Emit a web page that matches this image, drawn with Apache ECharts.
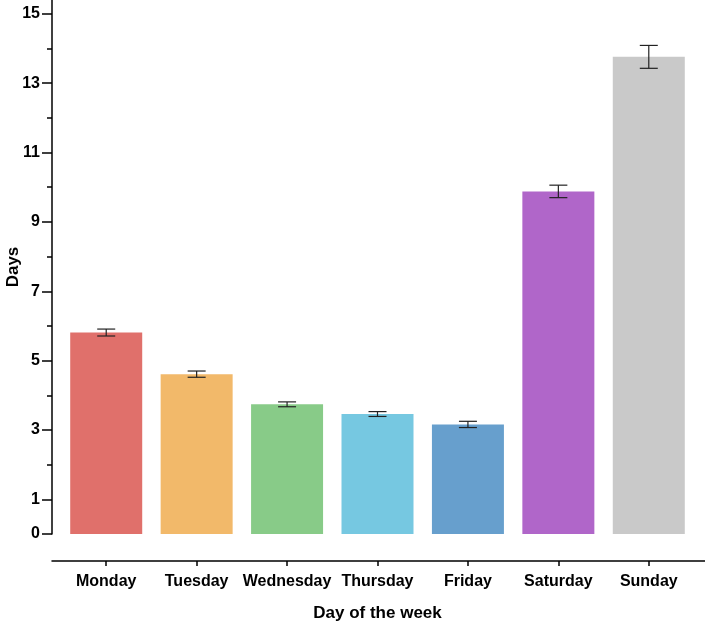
<!DOCTYPE html>
<html>
<head>
<meta charset="utf-8">
<script src="https://cdn.jsdelivr.net/npm/echarts@6/dist/echarts.min.js"></script>
<style>
  html, body { margin: 0; padding: 0; background: #fff; }
  #chart { width: 705px; height: 623px; }
</style>
</head>
<body>
<div id="chart"></div>
<script>
// 数据
const days = ['Monday', 'Tuesday', 'Wednesday', 'Thursday', 'Friday', 'Saturday', 'Sunday']
const means = [5.81, 4.61, 3.74, 3.46, 3.16, 9.88, 13.76]
const errors = [0.1, 0.09, 0.07, 0.07, 0.09, 0.18, 0.33]
const barColors = ['#E0706B', '#F2B96A', '#88CB88', '#76C8E1', '#679FCD', '#B066C9', '#C9C9C9']
const majorTicks = [0, 1, 3, 5, 7, 9, 11, 13, 15]
const minorTicks = [2, 4, 6, 8, 10, 12, 14]

const font = 'Liberation Sans, Arial, sans-serif'
const myChart = echarts.init(document.getElementById('chart'))

const option = {
  animation: false,
  grid: [
    { left: 61, right: 11, top: 0, bottom: 89, containLabel: false, outerBoundsMode: 'none' },
    // 只画 x 轴线
    { left: 52, right: 0, top: 0, bottom: 89, containLabel: false, outerBoundsMode: 'none' }
  ],
  xAxis: [
    {
      type: 'category',
      gridIndex: 0,
      data: days,
      offset: 27,
      axisLine: { show: false, onZero: false },
      axisTick: { show: true, alignWithLabel: true, length: 5, lineStyle: { color: '#000', width: 1.5 } },
      axisLabel: { interval: 0, margin: 13, color: '#000', fontSize: 16, fontWeight: 'bold', fontFamily: font },
      name: 'Day of the week',
      nameLocation: 'middle',
      nameGap: 44,
      nameMoveOverlap: false,
      nameTextStyle: { color: '#000', fontSize: 17, fontWeight: 'bold', fontFamily: font }
    },
    {
      type: 'value',
      gridIndex: 1,
      min: 0,
      max: 1,
      offset: 27,
      axisLine: { show: true, onZero: false, lineStyle: { color: '#000', width: 1.5 } },
      axisTick: { show: false },
      axisLabel: { show: false },
      splitLine: { show: false }
    }
  ],
  yAxis: [
    {
      type: 'value',
      gridIndex: 0,
      position: 'left',
      min: 0,
      max: 15.4,
      offset: 9,
      axisLine: { show: true, onZero: false, lineStyle: { color: '#000', width: 1.5 } },
      axisTick: { show: true, length: 10, customValues: majorTicks, lineStyle: { color: '#000', width: 1.5 } },
      axisLabel: {
        margin: 12,
        customValues: majorTicks,
        color: '#000',
        fontSize: 16,
        fontWeight: 'bold',
        fontFamily: font
      },
      splitLine: { show: false },
      name: 'Days',
      nameLocation: 'middle',
      nameGap: 30,
      nameMoveOverlap: false,
      nameTextStyle: { color: '#000', fontSize: 17, fontWeight: 'bold', fontFamily: font }
    },
    {
      // 次刻度
      type: 'value',
      gridIndex: 0,
      position: 'left',
      min: 0,
      max: 15.4,
      offset: 9,
      axisLine: { show: false, onZero: false },
      axisTick: { show: true, length: 5, customValues: minorTicks, lineStyle: { color: '#000', width: 1.5 } },
      axisLabel: { show: false },
      splitLine: { show: false }
    },
    {
      type: 'value',
      gridIndex: 1,
      show: false
    }
  ],
  series: [
    {
      type: 'bar',
      xAxisIndex: 0,
      yAxisIndex: 0,
      barWidth: 72,
      data: means.map((v, i) => ({ value: v, itemStyle: { color: barColors[i] } }))
    },
    {
      // 误差线
      type: 'custom',
      xAxisIndex: 0,
      yAxisIndex: 0,
      z: 5,
      data: means.map((v, i) => [i, v - errors[i], v + errors[i]]),
      renderItem: (params, api) => {
        const lo = api.coord([api.value(0), api.value(1)])
        const hi = api.coord([api.value(0), api.value(2)])
        const half = 9
        const style = { stroke: '#222', lineWidth: 1.2 }
        return {
          type: 'group',
          children: [
            { type: 'line', shape: { x1: lo[0], y1: lo[1], x2: hi[0], y2: hi[1] }, style },
            { type: 'line', shape: { x1: lo[0] - half, y1: lo[1], x2: lo[0] + half, y2: lo[1] }, style },
            { type: 'line', shape: { x1: hi[0] - half, y1: hi[1], x2: hi[0] + half, y2: hi[1] }, style }
          ]
        }
      }
    }
  ]
}
myChart.setOption(option)
</script>
</body>
</html>
